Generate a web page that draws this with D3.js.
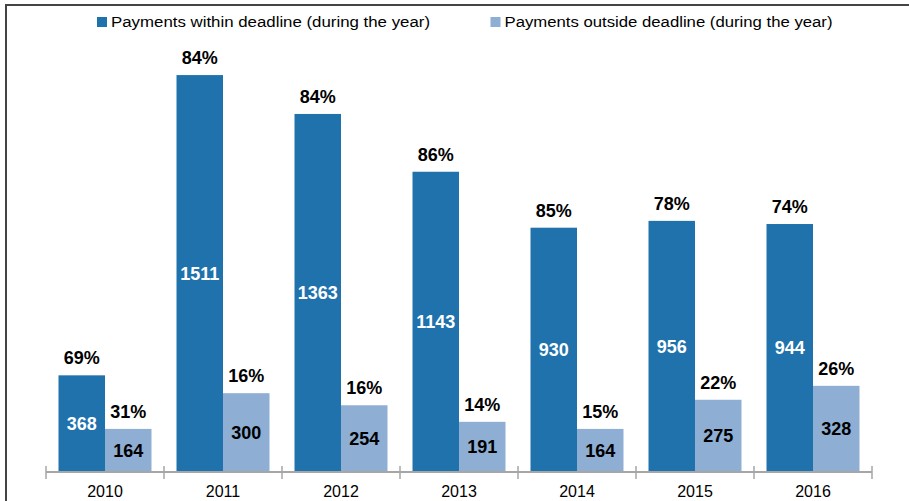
<!DOCTYPE html>
<html>
<head>
<meta charset="utf-8">
<script src="https://cdn.jsdelivr.net/npm/d3@7"></script>
<style>
  html, body { margin: 0; padding: 0; background: #fff; }
  svg { display: block; }
  text { font-family: "Liberation Sans", Arial, sans-serif; }
</style>
</head>
<body>
<svg id="chart" width="909" height="501"></svg>
<script>
const years = ["2010", "2011", "2012", "2013", "2014", "2015", "2016"];
const withinValues = [368, 1511, 1363, 1143, 930, 956, 944];
const outsideValues = [164, 300, 254, 191, 164, 275, 328];
const withinPct = ["69%", "84%", "84%", "86%", "85%", "78%", "74%"];
const outsidePct = ["31%", "16%", "16%", "14%", "15%", "22%", "26%"];
const seriesNames = ["Payments within deadline (during the year)", "Payments outside deadline (during the year)"];
const seriesColors = ["#1f72ac", "#8eaed4"];

const svg = d3.select("#chart");

// frame
svg.append("line").attr("x1", 6).attr("x2", 909).attr("y1", 5).attr("y2", 5)
  .attr("stroke", "#444").attr("stroke-width", 2);
svg.append("line").attr("x1", 6).attr("x2", 6).attr("y1", 4).attr("y2", 501)
  .attr("stroke", "#444").attr("stroke-width", 2);

const x = d3.scaleBand().domain(years).range([46, 872]).paddingInner(0.212).paddingOuter(0.106);
const xs = d3.scaleBand().domain([0, 1]).range([0, x.bandwidth()]);
const y = d3.scaleLinear().domain([0, 1600]).range([472, 51.7]);

const data = years.map((yr, i) => ({
  year: yr,
  vals: [
    { s: 0, v: withinValues[i], p: withinPct[i] },
    { s: 1, v: outsideValues[i], p: outsidePct[i] }
  ]
}));

const groups = svg.selectAll("g.grp").data(data).join("g")
  .attr("class", "grp")
  .attr("transform", d => `translate(${x(d.year)},0)`);

groups.selectAll("rect").data(d => d.vals).join("rect")
  .attr("x", d => xs(d.s))
  .attr("width", xs.bandwidth())
  .attr("y", d => y(d.v))
  .attr("height", d => y(0) - y(d.v))
  .attr("fill", d => seriesColors[d.s]);

groups.selectAll("text.val").data(d => d.vals).join("text")
  .attr("class", "val")
  .attr("x", d => xs(d.s) + xs.bandwidth() / 2)
  .attr("y", d => (y(d.v) + y(0)) / 2)
  .attr("dy", "0.36em")
  .attr("text-anchor", "middle")
  .attr("font-size", 18)
  .attr("font-weight", "bold")
  .attr("fill", d => d.s === 0 ? "#fff" : "#000")
  .text(d => d.v);

groups.selectAll("text.pct").data(d => d.vals).join("text")
  .attr("class", "pct")
  .attr("x", d => xs(d.s) + xs.bandwidth() / 2)
  .attr("y", d => y(d.v) - 11)
  .attr("text-anchor", "middle")
  .attr("font-size", 18)
  .attr("font-weight", "bold")
  .attr("fill", "#000")
  .text(d => d.p);

// axis
const axisG = svg.append("g").attr("transform", `translate(0,${y(0)})`);
axisG.append("line").attr("x1", 46).attr("x2", 872).attr("y1", 0).attr("y2", 0)
  .attr("stroke", "#a6a6a6").attr("stroke-width", 2);
const tickPos = years.map(yr => x(yr) - x.step() * x.paddingInner() / 2).concat([872]);
axisG.selectAll("line.tick").data(tickPos).join("line")
  .attr("class", "tick")
  .attr("x1", d => d).attr("x2", d => d).attr("y1", -6).attr("y2", 7)
  .attr("stroke", "#a6a6a6").attr("stroke-width", 1.5);
axisG.selectAll("text.lbl").data(years).join("text")
  .attr("class", "lbl")
  .attr("x", d => x(d) + x.bandwidth() / 2)
  .attr("y", 24.7)
  .attr("text-anchor", "middle")
  .attr("font-size", 16)
  .attr("fill", "#000")
  .text(d => d);

// legend
const legX = [97, 490.5];
const legW = [319, 328];
const leg = svg.selectAll("g.leg").data(seriesNames).join("g")
  .attr("class", "leg")
  .attr("transform", (d, i) => `translate(${legX[i]},17)`);
leg.append("rect").attr("width", 10).attr("height", 10).attr("fill", (d, i) => seriesColors[i]);
leg.append("text").attr("x", 14).attr("y", 10)
  .attr("font-size", 14).attr("fill", "#000")
  .attr("textLength", (d, i) => legW[i]).attr("lengthAdjust", "spacingAndGlyphs")
  .text(d => d);
</script>
</body>
</html>
